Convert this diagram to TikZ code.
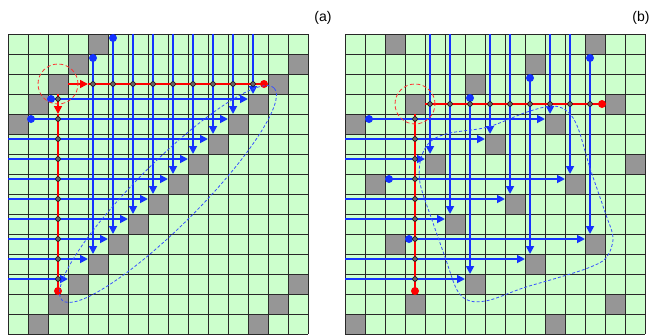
\documentclass[tikz,border=0pt]{standalone}
\usepackage{fontspec}
\setmainfont{Liberation Sans}
\usetikzlibrary{arrows.meta}
\definecolor{cellgreen}{RGB}{204,255,204}
\definecolor{cellgray}{RGB}{150,150,150}
\definecolor{wireblue}{RGB}{20,50,255}
\definecolor{wirered}{RGB}{255,0,0}
\definecolor{griddark}{RGB}{40,40,40}
\begin{document}
\begin{tikzpicture}[x=1pt,y=-1pt,
  gridline/.style={draw=griddark,line width=0.8pt},
  graycell/.style={fill=cellgray},
  bluewire/.style={draw=wireblue,line width=1.7pt},
  bluearrow/.style={bluewire,-{Triangle[length=8pt,width=8pt]}},
  redwire/.style={draw=wirered,line width=1.6pt},
  redarrow/.style={redwire,-{Triangle[length=8pt,width=8pt]}},
  srcdot/.style={fill=wireblue,draw=none},
  junction/.style={fill=black!60,draw=black,line width=0.5pt},
  enddot/.style={fill=wirered,draw=none},
  looppath/.style={draw=wireblue!85!white,dash pattern=on 3pt off 2pt,line width=0.8pt},
  ring/.style={draw=wirered!80!white,dash pattern=on 4pt off 2.5pt,line width=0.8pt},
  panellabel/.style={font=\fontsize{14}{16}\selectfont,inner sep=0pt}
]
\useasboundingbox (0,0) rectangle (654,335);

% ================= panel (a) =================
\fill[cellgreen] (8,34) rectangle (308,334);
\foreach \c/\r in {4/0,3/1,2/2,1/3,0/4,14/1,13/2,12/3,11/4,10/5,9/6,8/7,7/8,6/9,5/10,4/11,3/12,2/13,1/14,14/12,13/13,12/14}
  \fill[graycell] (8+20*\c,34+20*\r) rectangle ++(20,20);
\foreach \k in {0,...,15} {
  \draw[gridline] (8+20*\k,34) -- ++(0,300);
  \draw[gridline] (8,34+20*\k) -- ++(300,0);
}
% blue vertical wires
\foreach \c/\s in {4/58,5/38,6/34,7/34,8/34,9/34,10/34,11/34,12/34}
  \draw[bluearrow] (13+20*\c,\s) -- (13+20*\c,{34+20*(15-\c)});
% blue horizontal wires
\foreach \r/\s in {3/51,4/31,5/8,6/8,7/8,8/8,9/8,10/8,11/8,12/8}
  \draw[bluearrow] (\s,39+20*\r) -- ({8+20*(15-\r)},39+20*\r);
\fill[srcdot] (93,58) circle (4pt);
\fill[srcdot] (113,38) circle (4pt);
\fill[srcdot] (51,99) circle (4pt);
\fill[srcdot] (31,119) circle (4pt);
% red wires
\coordinate (ahs) at (68,84);
\coordinate (ahm) at (88,84);
\coordinate (ahe) at (264,84);
\coordinate (avs) at (58,94);
\coordinate (avm) at (58,114);
\coordinate (ave) at (58,291);
\draw[redwire] (ahm) -- (ahe);
\draw[redarrow] (ahs) -- (ahm);
\draw[redwire] (avm) -- (ave);
\draw[redarrow] (avs) -- (avm);
\foreach \c in {4,...,12} \filldraw[junction] (13+20*\c,84) circle (2.4pt);
\foreach \r in {3,...,12} \filldraw[junction] (58,39+20*\r) circle (2.4pt);
\fill[enddot] (ahe) circle (4pt);
\fill[enddot] (ave) circle (4pt);
\draw[ring] (58,84) circle (20pt);
\draw[looppath,rotate around={45:(168,194)}] (168,194) ellipse [x radius=150pt, y radius=32pt];
\node[panellabel] (labela) at (323,18) {(a)};

% ================= panel (b) =================
\fill[cellgreen] (345,34) rectangle (645,334);
\foreach \c/\r in {2/0,12/0,9/1,6/2,3/3,13/3,0/4,10/4,7/5,4/6,14/6,1/7,11/7,8/8,5/9,2/10,12/10,9/11,6/12,3/13,13/13,0/14,10/14}
  \fill[graycell] (345+20*\c,34+20*\r) rectangle ++(20,20);
\foreach \k in {0,...,15} {
  \draw[gridline] (345+20*\k,34) -- ++(0,300);
  \draw[gridline] (345,34+20*\k) -- ++(300,0);
}
% blue vertical wires
\foreach \c/\s/\e in {4/34/154,5/34/214,6/98/274,7/34/134,8/34/194,9/78/254,10/34/114,11/34/174,12/58/234}
  \draw[bluearrow] (350+20*\c,\s) -- (350+20*\c,\e);
% blue horizontal wires
\foreach \r/\s/\e in {4/369/545,5/345/485,6/345/425,7/389/565,8/345/505,9/345/445,10/409/585,11/345/525,12/345/465}
  \draw[bluearrow] (\s,39+20*\r) -- (\e,39+20*\r);
\fill[srcdot] (470,98) circle (4pt);
\fill[srcdot] (530,78) circle (4pt);
\fill[srcdot] (590,58) circle (4pt);
\fill[srcdot] (369,119) circle (4pt);
\fill[srcdot] (389,179) circle (4pt);
\fill[srcdot] (409,239) circle (4pt);
% red wires
\coordinate (bhs) at (425,104);
\coordinate (bhe) at (602,104);
\coordinate (bvs) at (415,114);
\coordinate (bve) at (415,291);
\draw[redwire] (bhs) -- (bhe);
\draw[redwire] (bvs) -- (bve);
\foreach \c in {4,...,12} \filldraw[junction] (350+20*\c,104) circle (2.4pt);
\foreach \r in {4,...,12} \filldraw[junction] (415,39+20*\r) circle (2.4pt);
\fill[enddot] (bhe) circle (4pt);
\fill[enddot] (bve) circle (4pt);
\draw[ring] (415,104) circle (20pt);
\draw[looppath] plot[smooth cycle, tension=0.55] coordinates {(421,158) (431,141) (450,133) (488,127) (527,112) (553,106) (568,112) (578,128) (590,168) (605,212) (613,238) (606,258) (588,268) (557,278) (523,288) (490,300) (470,301) (457,290) (445,257) (432,220) (420,183)};
\node[panellabel] (labelb) at (641,18) {(b)};
\end{tikzpicture}
\end{document}
